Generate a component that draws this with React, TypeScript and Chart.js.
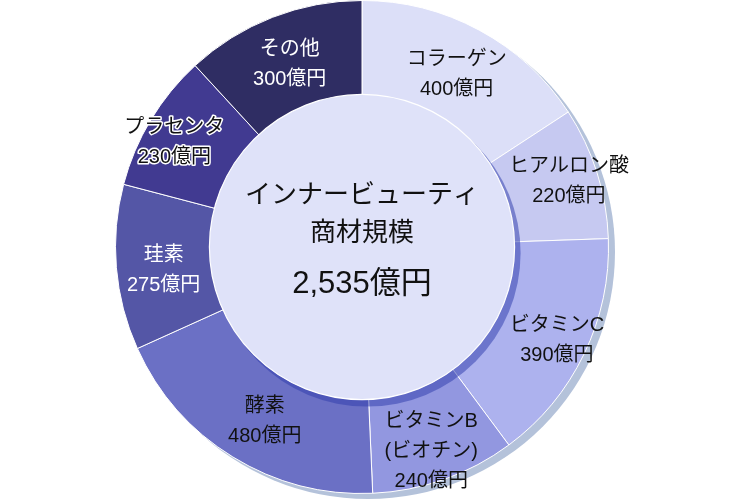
import { useEffect, useRef } from 'react'
import { Chart, registerables } from 'chart.js'

Chart.register(...registerables)

// データ（億円）
const categories = ['コラーゲン', 'ヒアルロン酸', 'ビタミンC', 'ビタミンB\n(ビオチン)', '酵素', '珪素', 'プラセンタ', 'その他']
const values = [400, 220, 390, 240, 480, 275, 230, 300]
const unit = '億円'
const centerTitle = ['インナービューティ', '商材規模']

const colors = ['#dcdff8', '#c6c9f1', '#adb2ee', '#9297e0', '#6b70c5', '#5456a6', '#413a91', '#2f2d63']
const labelColors = ['#111', '#111', '#111', '#111', '#111', '#fff', '#111', '#fff']
const labelHalo = [false, false, false, false, false, false, true, false]
// small nudges so labels sit where the original places them
const labelNudge = [0, 18, 14, 8, 0, 0, 20, 0]
const labelShiftX = [0, 0, 3, 0, 7, 0, 0, 0]
const labelShiftY = [3, 0, 1, 9, 5, 7, 9, 3]

const FONT = '"Liberation Sans", "Noto Sans CJK JP", sans-serif'

const total = values.reduce((a, b) => a + b, 0)

const decorations = {
  id: 'decorations',
  beforeDatasetsDraw(chart: any) {
    const arc = chart.getDatasetMeta(0).data[0]
    if (!arc) return
    const { x, y, outerRadius } = arc.getProps(['x', 'y', 'outerRadius'], true)
    const ctx = chart.ctx
    ctx.save()
    ctx.beginPath()
    ctx.arc(x + 6, y + 5, outerRadius + 0.5, 0, Math.PI * 2)
    ctx.fillStyle = '#b4c2da'
    ctx.fill()
    ctx.restore()
  },
  afterDatasetsDraw(chart: any) {
    const meta = chart.getDatasetMeta(0)
    const ctx = chart.ctx
    const first = meta.data[0]
    if (!first) return
    const { x, y, innerRadius } = first.getProps(['x', 'y', 'innerRadius'], true)

    // center disc with its shadow
    ctx.save()
    ctx.beginPath()
    ctx.arc(x + 5, y + 6, innerRadius + 2, 0, Math.PI * 2)
    ctx.fillStyle = 'rgba(48,62,172,0.52)'
    ctx.fill()
    ctx.beginPath()
    ctx.arc(x, y, innerRadius + 1, 0, Math.PI * 2)
    ctx.fillStyle = '#dfe2f9'
    ctx.fill()
    ctx.lineWidth = 1.2
    ctx.strokeStyle = '#ffffff'
    ctx.stroke()

    // center text
    ctx.fillStyle = '#111'
    ctx.textAlign = 'center'
    ctx.textBaseline = 'middle'
    ctx.font = `26px ${FONT}`
    ctx.fillText(centerTitle[0], x, y - 51)
    ctx.fillText(centerTitle[1], x, y - 13)
    ctx.font = `31px ${FONT}`
    ctx.fillText(total.toLocaleString('ja-JP') + unit, x, y + 37)

    // segment labels
    ctx.font = `20px ${FONT}`
    meta.data.forEach((el: any, i: number) => {
      const p = el.getProps(['x', 'y', 'startAngle', 'endAngle', 'innerRadius', 'outerRadius'], true)
      const mid = (p.startAngle + p.endAngle) / 2
      const r = (p.innerRadius + p.outerRadius) / 2 + labelNudge[i]
      const lx = p.x + Math.cos(mid) * r + labelShiftX[i]
      const ly = p.y + Math.sin(mid) * r + labelShiftY[i]
      const lines = [...categories[i].split('\n'), values[i] + unit]
      const lh = 30
      const top = ly - ((lines.length - 1) * lh) / 2
      lines.forEach((t, k) => {
        const ty = top + k * lh
        if (labelHalo[i]) {
          ctx.lineWidth = 3
          ctx.strokeStyle = '#ffffff'
          ctx.lineJoin = 'round'
          ctx.strokeText(t, lx, ty)
        }
        ctx.fillStyle = labelColors[i]
        ctx.fillText(t, lx, ty)
      })
    })
    ctx.restore()
  },
}

export default function App() {
  const canvasRef = useRef<HTMLCanvasElement>(null)

  useEffect(() => {
    if (!canvasRef.current) return
    const chart = new Chart(canvasRef.current, {
      type: 'doughnut',
      data: {
        labels: categories,
        datasets: [
          {
            data: values,
            backgroundColor: colors,
            borderColor: '#ffffff',
            borderWidth: 1,
          },
        ],
      },
      options: {
        animation: false,
        responsive: true,
        maintainAspectRatio: false,
        cutout: '61.5%',
        layout: { padding: { left: 0, right: 26, top: 0, bottom: 6 } },
        plugins: {
          legend: { display: false },
          tooltip: { enabled: false },
        },
      },
      plugins: [decorations],
    })
    return () => chart.destroy()
  }, [])

  return (
    <div style={{ position: 'absolute', left: 0, top: 0, width: 750, height: 500, background: '#fff' }}>
      <canvas ref={canvasRef} />
    </div>
  )
}
